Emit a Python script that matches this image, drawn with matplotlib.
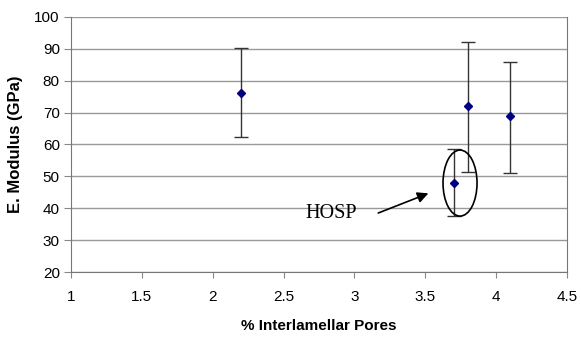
import matplotlib.pyplot as plt
from matplotlib.patches import Ellipse

pores = [2.2, 3.7, 3.8, 4.1]
modulus = [76, 48, 72, 69]
err_low = [62.5, 37.5, 51.5, 51]
err_high = [90.3, 58.5, 92, 86]

yerr = [[m - lo for m, lo in zip(modulus, err_low)],
        [hi - m for m, hi in zip(modulus, err_high)]]

plt.rcParams['font.family'] = ['Liberation Sans', 'DejaVu Sans']
fig = plt.figure(figsize=(5.81, 3.38), dpi=100)
ax = fig.add_axes([0.122, 0.195, 0.854, 0.755])

ax.errorbar(pores, modulus, yerr=yerr, fmt='D', color='#000080', markersize=4,
            ecolor='#333333', elinewidth=1, capsize=5, capthick=1, zorder=3)

ax.set_xlim(1, 4.5)
ax.set_ylim(20, 100)
ax.set_xticks([1, 1.5, 2, 2.5, 3, 3.5, 4, 4.5])
ax.set_xticklabels(['1', '1.5', '2', '2.5', '3', '3.5', '4', '4.5'])
ax.set_yticks(range(20, 101, 10))
ax.yaxis.grid(True, color='#999999', linewidth=1)
ax.set_axisbelow(True)
ax.spines['top'].set_visible(False)
for s in ['left', 'bottom', 'right']:
    ax.spines[s].set_color('#777777')
ax.tick_params(axis='x', direction='out', length=4, color='#888888', labelsize=11, pad=9)
ax.tick_params(axis='y', direction='out', length=5, color='#888888', labelsize=11, pad=3)

ax.set_xlabel('% Interlamellar Pores', fontsize=11, fontweight='bold', labelpad=11)
ax.set_ylabel('E. Modulus (GPa)', fontsize=12, fontweight='bold', labelpad=8)

ax.add_patch(Ellipse((3.745, 47.9), 0.24, 20.7, fill=False, edgecolor='black', linewidth=1.2, zorder=4))
ax.annotate('', xy=(3.54, 45), xytext=(3.15, 38.2),
            arrowprops=dict(arrowstyle='-|>', color='black', lw=1.2, mutation_scale=16))
ax.text(2.835, 38.3, 'HOSP', fontsize=14.5, family='Liberation Serif', ha='center', va='center')

fig.savefig('out.png', dpi=100)
